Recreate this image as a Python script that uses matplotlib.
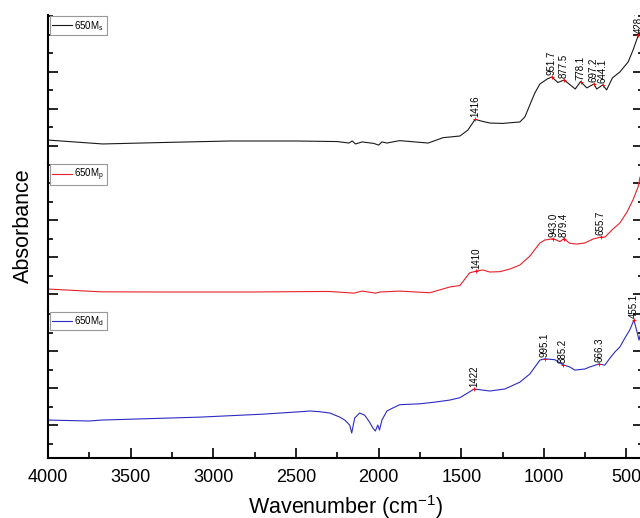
import numpy as np
import matplotlib
matplotlib.use('Agg')
import matplotlib.pyplot as plt
from matplotlib.ticker import MultipleLocator, NullFormatter

plt.rcParams['font.family'] = ['Liberation Sans', 'DejaVu Sans']
plt.rcParams['mathtext.fontset'] = 'custom'
plt.rcParams['mathtext.rm'] = 'Liberation Sans'

# 650M_s (top, black)
wn_s = [4000, 3670, 3300, 2900, 2500, 2250, 2180, 2160, 2140, 2100, 2030, 2000, 1980, 1950,
        1873, 1700, 1610, 1508, 1460, 1416, 1380, 1327, 1250, 1145, 1115, 1055, 1024, 980,
        951.7, 915, 877.5, 810, 778.1, 740, 697.2, 680, 644.1, 620, 585, 540, 490, 460, 428, 410]
abs_s = [0.232, 0.211, 0.219, 0.227, 0.227, 0.224, 0.216, 0.227, 0.211, 0.222, 0.214, 0.205, 0.222, 0.216,
         0.229, 0.216, 0.245, 0.254, 0.286, 0.344, 0.335, 0.324, 0.322, 0.330, 0.357, 0.486, 0.535, 0.562,
         0.573, 0.543, 0.557, 0.508, 0.548, 0.514, 0.535, 0.508, 0.530, 0.503, 0.568, 0.600, 0.654, 0.719, 0.800, 0.827]
peaks_s = [1416, 951.7, 877.5, 778.1, 697.2, 644.1, 428]
plabels_s = ['1416', '951.7', '877.5', '778.1', '697.2', '644.1', '428.1']

# 650M_p (middle, red)
wn_p = [4000, 3680, 3300, 2800, 2300, 2150, 2100, 2020, 1990, 1873, 1690, 1570, 1508, 1450,
        1410, 1370, 1327, 1266, 1206, 1145, 1085, 1024, 994, 943, 903, 879.4, 843, 800, 752,
        703, 655.7, 630, 582, 540, 497, 461, 430, 418]
abs_p = [0.227, 0.212, 0.211, 0.211, 0.214, 0.205, 0.216, 0.205, 0.211, 0.216, 0.207, 0.238, 0.246, 0.314,
         0.324, 0.330, 0.319, 0.321, 0.335, 0.357, 0.405, 0.476, 0.492, 0.499, 0.483, 0.499, 0.474, 0.470, 0.476,
         0.497, 0.508, 0.508, 0.551, 0.584, 0.643, 0.708, 0.778, 0.832]
peaks_p = [1410, 943.0, 879.4, 655.7]
plabels_p = ['1410', '943.0', '879.4', '655.7']

# 650M_d (bottom, blue)
wn_d = [4000, 3750, 3680, 3080, 2700, 2475, 2415, 2355, 2295, 2235, 2205, 2175, 2163, 2145,
        2115, 2085, 2055, 2035, 2020, 2005, 1995, 1980, 1950, 1915, 1873, 1750, 1660, 1570,
        1508, 1422, 1327, 1236, 1145, 1085, 1024, 995.1, 933, 885.2, 843, 813, 752, 722,
        666.3, 631, 600, 570, 540, 510, 480, 455.1, 436, 424, 410]
abs_d = [0.227, 0.222, 0.227, 0.243, 0.259, 0.272, 0.276, 0.272, 0.265, 0.243, 0.227, 0.200, 0.157, 0.238,
         0.265, 0.254, 0.216, 0.184, 0.168, 0.200, 0.173, 0.227, 0.276, 0.292, 0.310, 0.315, 0.324, 0.335,
         0.348, 0.395, 0.384, 0.395, 0.432, 0.476, 0.551, 0.558, 0.553, 0.526, 0.514, 0.497, 0.503, 0.514,
         0.530, 0.524, 0.562, 0.595, 0.622, 0.670, 0.714, 0.768, 0.703, 0.659, 0.714]
peaks_d = [1422, 995.1, 885.2, 666.3, 455.1]
plabels_d = ['1422', '995.1', '885.2', '666.3', '455.1']

fig = plt.figure(figsize=(6.4, 5.18), dpi=100)
left, width = 0.0753, 0.9294
bottom, ph = 0.1158, 0.2851

panels = [
    (wn_s, abs_s, peaks_s, plabels_s, '#1a1a1a', '650M$_\\mathregular{s}$', (0.11, 0.908)),
    (wn_p, abs_p, peaks_p, plabels_p, '#e8202a', '650M$_\\mathregular{p}$', (0.112, 0.91)),
    (wn_d, abs_d, peaks_d, plabels_d, '#2b2bc4', '650M$_\\mathregular{d}$', (0.022, 0.82)),
]

axes = []
for i, (wn, ab, pk, pl, col, lab, ylim) in enumerate(panels):
    ax = fig.add_axes([left, bottom + (2 - i) * ph, width, ph])
    ax.plot(wn, ab, color=col, lw=0.8, label=lab)
    for p, t in zip(pk, pl):
        v = np.interp(p, wn[::-1], ab[::-1])
        ax.plot(p, v, marker='+', ms=3, mew=0.6, color='red')
        ax.annotate(t, (p, v), xytext=(0, 1.5), textcoords='offset points',
                    rotation=90, ha='center', va='bottom', fontsize=7,
                    annotation_clip=False, clip_on=(i == 0))
    ax.set_xlim(4000, 400)
    ax.set_ylim(*ylim)
    ax.yaxis.set_major_locator(MultipleLocator(0.2))
    ax.yaxis.set_minor_locator(MultipleLocator(0.1))
    ax.yaxis.set_major_formatter(NullFormatter())
    ax.xaxis.set_major_locator(MultipleLocator(500))
    ax.xaxis.set_minor_locator(MultipleLocator(250))
    ax.tick_params(axis='y', which='both', direction='in', left=True, right=True)
    ax.tick_params(axis='y', which='major', length=7, width=1.2)
    ax.tick_params(axis='y', which='minor', length=3.5, width=1.2)
    ax.spines['top'].set_visible(False)
    ax.spines['right'].set_visible(False)
    ax.spines['left'].set_linewidth(1.5)
    ax.patch.set_alpha(0)
    if i < 2:
        ax.spines['bottom'].set_visible(False)
        ax.tick_params(axis='x', which='both', bottom=False, labelbottom=False)
    else:
        ax.spines['bottom'].set_linewidth(1.5)
        ax.tick_params(axis='x', which='both', direction='in', width=1.2, pad=8, labelsize=13)
        ax.tick_params(axis='x', which='major', length=7)
        ax.tick_params(axis='x', which='minor', length=4)
        ax.set_xlabel('Wavenumber (cm$^{\\mathregular{-1}}$)', fontsize=15.5, labelpad=5)
    leg = ax.legend(loc='upper left', fontsize=7, handlelength=2.0, borderaxespad=0.15,
                    fancybox=False, framealpha=1, borderpad=0.25, handletextpad=0.3)
    leg.get_frame().set_edgecolor('#999999')
    leg.get_frame().set_linewidth(0.8)
    axes.append(ax)

fig.text(0.036, 0.5637, 'Absorbance', rotation=90, ha='center', va='center', fontsize=15.5)

fig.savefig('out.png', dpi=100)
